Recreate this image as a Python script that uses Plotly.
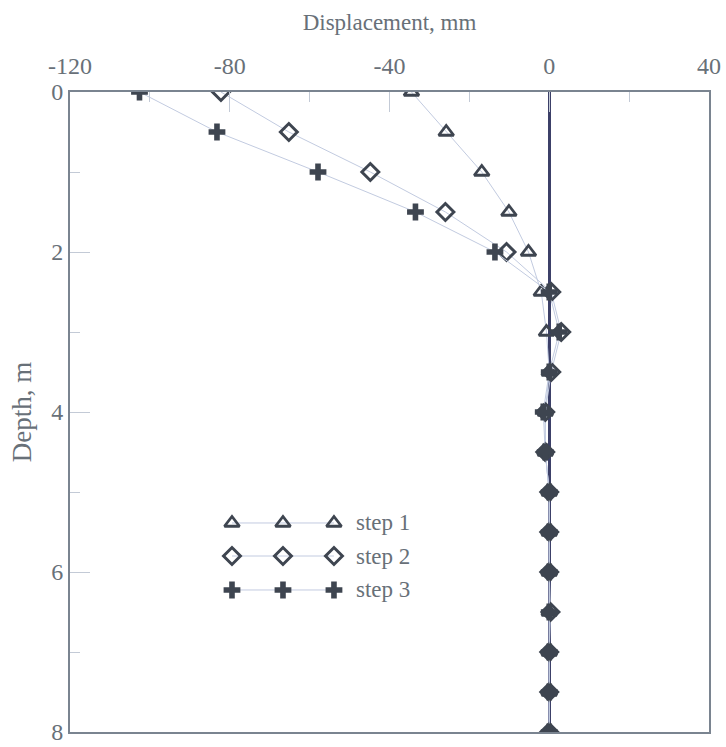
import plotly.graph_objects as go

# Depth below surface (m)
depth = [0, 0.5, 1, 1.5, 2, 2.5, 3, 3.5, 4, 4.5, 5, 5.5, 6, 6.5, 7, 7.5, 8]

# Lateral displacement (mm) for each excavation step
step1 = [-34.5, -25.8, -16.9, -10.1, -5.2, -2.0, -0.7, 0.0, -1.0, -1.0, 0.0, 0.0, 0.0, 0.0, 0.0, 0.0, 0.0]
step2 = [-82.2, -65.2, -44.8, -26.0, -10.7, 0.5, 3.0, 0.5, -1.0, -1.0, 0.0, 0.0, 0.0, 0.3, 0.0, 0.0, 0.0]
step3 = [-102.6, -83.2, -57.9, -33.5, -13.6, 0.0, 2.5, 0.0, -1.5, -1.0, 0.0, 0.0, 0.0, 0.0, 0.0, 0.0, 0.0]

series_names = ["step 1", "step 2", "step 3"]
x_ticks = [-120, -80, -40, 0, 40]
x_labels = ["-120", "-80", "-40", "0", "40"]
y_ticks = [0, 2, 4, 6, 8]

FONT = "Liberation Serif, Times New Roman, serif"
TEXT_COLOR = "#687078"
MARK_COLOR = "#3e4550"
LINE_COLOR = "#c2cbe0"
AXIS_COLOR = "#7a8490"
TICK_COLOR = "#c3cad6"

styles = [
    dict(symbol="triangle-up-open", size=13, line=dict(width=2.8, color=MARK_COLOR)),
    dict(symbol="diamond-open", size=13, line=dict(width=3, color=MARK_COLOR)),
    dict(symbol="cross", size=14, line=dict(width=0)),
]

fig = go.Figure()

for name, vals, st in zip(series_names, [step1, step2, step3], styles):
    fig.add_trace(go.Scatter(
        x=vals, y=depth, mode="lines+markers", name=name,
        line=dict(color=LINE_COLOR, width=1),
        marker=dict(color=MARK_COLOR, **st),
        showlegend=False,
    ))

# Hand-drawn legend: three sample markers per entry on an overlay axis
leg_x = [0.2535, 0.3333, 0.4131]
leg_y = [0.3266, 0.2750, 0.2219]
for name, st, yy in zip(series_names, styles, leg_y):
    fig.add_trace(go.Scatter(
        x=leg_x, y=[yy] * 3, xaxis="x2", yaxis="y2",
        mode="lines+markers", hoverinfo="skip", showlegend=False,
        line=dict(color=LINE_COLOR, width=1),
        marker=dict(color=MARK_COLOR, **st),
    ))
    fig.add_annotation(
        x=0.445, y=yy, xref="x2", yref="y2", text=name, showarrow=False,
        xanchor="left", yanchor="middle",
        font=dict(family=FONT, size=23, color=TEXT_COLOR),
    )

fig.update_layout(
    width=726, height=747,
    margin=dict(l=70, r=17, t=92, b=15),
    paper_bgcolor="white", plot_bgcolor="white",
    font=dict(family=FONT, color=TEXT_COLOR),
    xaxis=dict(
        side="top", range=[-120, 40], tickvals=x_ticks, ticktext=x_labels,
        automargin=False, ticklabelstandoff=6,
        ticks="inside", ticklen=20, tickwidth=1, tickcolor=TICK_COLOR,
        minor=dict(dtick=20, ticks="inside", ticklen=10, tickcolor=TICK_COLOR, tickwidth=1),
        showgrid=False, showline=True, mirror=True, linecolor=AXIS_COLOR, linewidth=2,
        zeroline=True, zerolinecolor="#3c4068", zerolinewidth=2.5,
        tickfont=dict(family=FONT, size=24, color=TEXT_COLOR),
        title=dict(text="Displacement, mm", standoff=16,
                   font=dict(family=FONT, size=23, color=TEXT_COLOR)),
    ),
    yaxis=dict(
        range=[8, 0], tickvals=y_ticks, automargin=False,
        ticks="inside", ticklen=20, tickwidth=1, tickcolor=TICK_COLOR,
        minor=dict(dtick=1, ticks="inside", ticklen=10, tickcolor=TICK_COLOR, tickwidth=1),
        showgrid=False, showline=True, mirror=True, linecolor=AXIS_COLOR, linewidth=2,
        zeroline=False,
        tickfont=dict(family=FONT, size=24, color=TEXT_COLOR),
        title=dict(text="Depth, m", standoff=12,
                   font=dict(family=FONT, size=27, color=TEXT_COLOR)),
    ),
    xaxis2=dict(overlaying="x", anchor="y2", range=[0, 1], visible=False),
    yaxis2=dict(overlaying="y", anchor="x2", range=[0, 1], visible=False),
    showlegend=False,
)

fig.write_html("out.html")
